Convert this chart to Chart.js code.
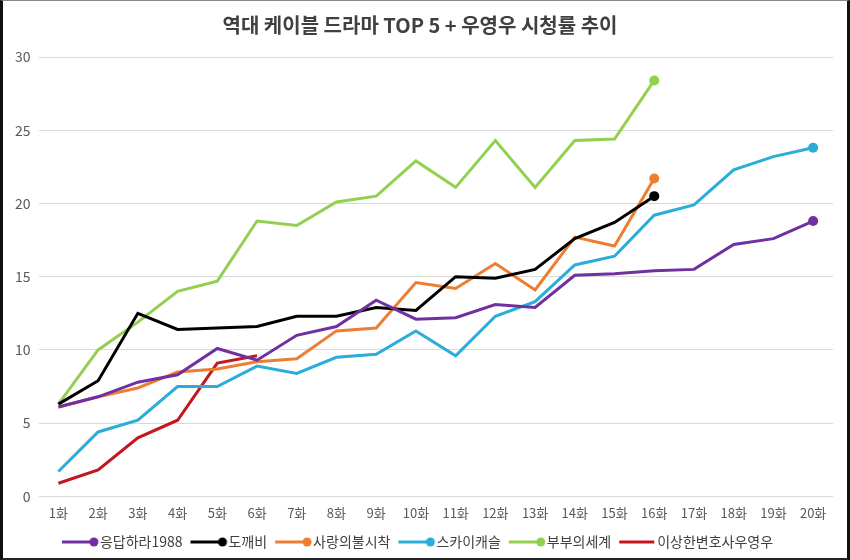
<!DOCTYPE html>
<html>
<head>
<meta charset="utf-8">
<script src="https://cdn.jsdelivr.net/npm/chart.js@4"></script>
<style>
  html, body { margin: 0; padding: 0; background: #fff; }
  #wrap {
    width: 850px; height: 560px; box-sizing: border-box;
    border-left: 3px solid #111; border-right: 3px solid #111;
    border-top: 1px solid #888; border-bottom: 2px solid #222;
  }
</style>
</head>
<body>
<div id="wrap"><canvas id="chart" width="844" height="557"></canvas></div>
<script>
// 회차 라벨
const episodes = ['1화','2화','3화','4화','5화','6화','7화','8화','9화','10화',
                  '11화','12화','13화','14화','15화','16화','17화','18화','19화','20화'];

// 시청률 (%)
const reply1988 = [6.1, 6.8, 7.8, 8.3, 10.1, 9.3, 11.0, 11.6, 13.4, 12.1, 12.2, 13.1, 12.9, 15.1, 15.2, 15.4, 15.5, 17.2, 17.6, 18.8];
const goblin    = [6.3, 7.9, 12.5, 11.4, 11.5, 11.6, 12.3, 12.3, 12.9, 12.7, 15.0, 14.9, 15.5, 17.6, 18.7, 20.5];
const cloy      = [6.1, 6.8, 7.4, 8.5, 8.7, 9.2, 9.4, 11.3, 11.5, 14.6, 14.2, 15.9, 14.1, 17.7, 17.1, 21.7];
const skyCastle = [1.7, 4.4, 5.2, 7.5, 7.5, 8.9, 8.4, 9.5, 9.7, 11.3, 9.6, 12.3, 13.3, 15.8, 16.4, 19.2, 19.9, 22.3, 23.2, 23.8];
const worldOfMarried = [6.3, 10.0, 11.9, 14.0, 14.7, 18.8, 18.5, 20.1, 20.5, 22.9, 21.1, 24.3, 21.1, 24.3, 24.4, 28.4];
const woowoo    = [0.9, 1.8, 4.0, 5.2, 9.1, 9.6];

const seriesNames = ['응답하라1988', '도깨비', '사랑의불시착', '스카이캐슬', '부부의세계', '이상한변호사우영우'];
const seriesData = [reply1988, goblin, cloy, skyCastle, worldOfMarried, woowoo];
const seriesColors = ['#7030A0', '#000000', '#ED7D31', '#2AADD9', '#92D050', '#C4161C'];
const endMarker = [true, true, true, true, true, false];

const yTicks = [0, 5, 10, 15, 20, 25, 30];

const fontFamily = '"Noto Sans CJK KR", "Noto Sans", sans-serif';

// legend icon: line + dot
function makeIcon(color, dot) {
  const c = document.createElement('canvas');
  c.width = 40; c.height = 12;
  const g = c.getContext('2d');
  g.strokeStyle = color; g.lineWidth = 3;
  g.beginPath(); g.moveTo(2, 6); g.lineTo(dot ? 34 : 37, 6); g.stroke();
  if (dot) {
    g.fillStyle = color;
    g.beginPath(); g.arc(34, 6, 4.5, 0, Math.PI * 2); g.fill();
  }
  return c;
}
const legendIcons = seriesColors.map((c, i) => makeIcon(c, endMarker[i]));

const datasets = seriesNames.map((name, i) => ({
  label: name,
  data: seriesData[i],
  borderColor: seriesColors[i],
  backgroundColor: seriesColors[i],
  borderWidth: 3,
  tension: 0,
  pointRadius: ctx => (endMarker[i] && ctx.dataIndex === seriesData[i].length - 1) ? 5 : 0,
  pointHoverRadius: 0,
  pointBorderWidth: 0
}));

new Chart(document.getElementById('chart'), {
  type: 'line',
  data: { labels: episodes, datasets },
  options: {
    responsive: false,
    animation: false,
    layout: { padding: { left: 4, right: 14, top: 8, bottom: -1 } },
    plugins: {
      title: {
        display: true,
        text: '역대 케이블 드라마 TOP 5 + 우영우 시청률 추이',
        color: '#404040',
        font: { family: fontFamily, size: 20, weight: 'bold' },
        padding: { top: 4, bottom: 20 }
      },
      legend: {
        position: 'bottom',
        labels: {
          usePointStyle: true,
          pointStyleWidth: 26,
          color: '#404040',
          padding: 13,
          font: { family: fontFamily, size: 14 },
          generateLabels(chart) {
            const items = Chart.defaults.plugins.legend.labels.generateLabels(chart);
            items.forEach((it, i) => { it.pointStyle = legendIcons[i]; });
            return items;
          }
        }
      },
      tooltip: { enabled: false }
    },
    scales: {
      x: {
        offset: true,
        grid: { display: false },
        border: { display: false },
        ticks: { color: '#595959', font: { family: fontFamily, size: 13 }, maxRotation: 0, autoSkip: false, padding: 1 }
      },
      y: {
        min: 0, max: 30,
        afterBuildTicks(axis) { axis.ticks = yTicks.map(v => ({ value: v })); },
        grid: { color: '#d9d9d9', drawTicks: false },
        border: { display: false },
        ticks: { color: '#595959', font: { family: fontFamily, size: 14 }, padding: 8 }
      }
    }
  }
});
</script>
</body>
</html>
